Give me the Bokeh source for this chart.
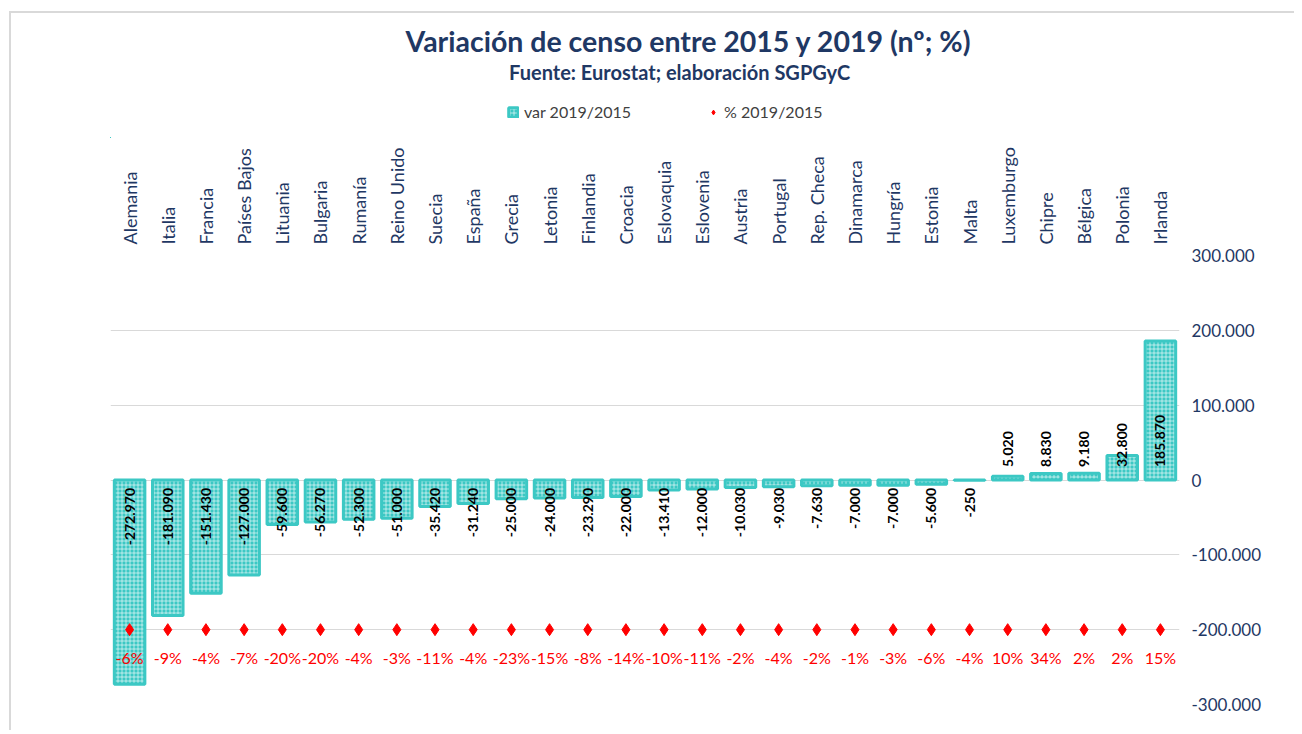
import math
from bokeh.plotting import figure
from bokeh.layouts import column
from bokeh.models import (ColumnDataSource, Range1d, FixedTicker, Legend, LegendItem, Label)
from bokeh.core.properties import value
from bokeh.embed import file_html
from bokeh.resources import INLINE

# ---------------- data ----------------
countries = ["Alemania", "Italia", "Francia", "Países Bajos", "Lituania", "Bulgaria",
             "Rumanía", "Reino Unido", "Suecia", "España", "Grecia", "Letonia",
             "Finlandia", "Croacia", "Eslovaquia", "Eslovenia", "Austria", "Portugal",
             "Rep. Checa", "Dinamarca", "Hungría", "Estonia", "Malta", "Luxemburgo",
             "Chipre", "Bélgica", "Polonia", "Irlanda"]
var_2019_2015 = [-272970, -181090, -151430, -127000, -59600, -56270, -52300, -51000,
                 -35420, -31240, -25000, -24000, -23290, -22000, -13410, -12000,
                 -10030, -9030, -7630, -7000, -7000, -5600, -250, 5020, 8830, 9180,
                 32800, 185870]
pct_2019_2015 = [-6, -9, -4, -7, -20, -20, -4, -3, -11, -4, -23, -15, -8, -14, -10,
                 -11, -2, -4, -2, -1, -3, -6, -4, 10, 34, 2, 2, 15]
pct_row = -200000          # level at which the % markers sit
y_ticks = [-300000, -200000, -100000, 0, 100000, 200000, 300000]
title_text = "Variación de censo entre 2015 y 2019 (nº; %)"
subtitle_text = "Fuente: Eurostat; elaboración  SGPGyC"
legend_labels = ["var 2019/2015", "% 2019/2015"]

FONT = "Lato"
NAVY = "#1F3864"
TEAL = "#3CC8C4"
RED = "#FF0000"

# layout sizes (px)
BORDER_L, BORDER_R = 99, 115
FRAME_W, FRAME_H = 1069, 449
TOP, BOTTOM = 117, 26
W = BORDER_L + FRAME_W + BORDER_R
HEADER_H = 125


def fmt(v):
    return f"{v:,}".replace(",", ".")


src = ColumnDataSource(dict(
    country=countries,
    var=var_2019_2015,
    zero=[0] * len(countries),
    pct_y=[pct_row] * len(countries),
    pct_txt=[f"{p}%" for p in pct_2019_2015],
))
neg = [i for i, v in enumerate(var_2019_2015) if v < 0]
pos = [i for i, v in enumerate(var_2019_2015) if v >= 0]
neg_src = ColumnDataSource(dict(country=[countries[i] for i in neg],
                                zero=[0] * len(neg),
                                txt=[fmt(var_2019_2015[i]) for i in neg]))
pos_src = ColumnDataSource(dict(country=[countries[i] for i in pos],
                                zero=[0] * len(pos),
                                txt=[fmt(var_2019_2015[i]) for i in pos]))

bar_style = dict(fill_color=TEAL, line_color=TEAL, line_width=3,
                 hatch_pattern="+", hatch_color="white", hatch_scale=4,
                 hatch_weight=1, hatch_alpha=0.6)
mark_style = dict(marker="diamond", size=12, fill_color=RED, line_color=RED)

# ---------------- header (title, subtitle, legend) ----------------
header = figure(width=W, height=HEADER_H, x_range=Range1d(0, W), y_range=Range1d(0, HEADER_H),
                x_axis_type=None, y_axis_type=None, title=None,
                output_backend="svg", toolbar_location=None, min_border=0)
header.outline_line_color = None
header.grid.visible = False
header.add_layout(Label(x=694, y=98, text=title_text, text_align="center",
                        text_baseline="middle", text_font=FONT, text_font_size="28.5px",
                        text_font_style="bold", text_color=NAVY))
header.add_layout(Label(x=686, y=67, text=subtitle_text, text_align="center",
                        text_baseline="middle", text_font=FONT, text_font_size="20px",
                        text_font_style="bold", text_color=NAVY))
# legend proxies: same series/style, mapped far outside the header's visible range
leg_bar = header.vbar(x="pct_y", top="zero", width=0.8, source=src, **bar_style)
leg_mark = header.scatter(x="pct_y", y="pct_y", source=src, **mark_style)
legend = Legend(items=[LegendItem(label=legend_labels[0], renderers=[leg_bar]),
                       LegendItem(label=legend_labels[1], renderers=[leg_mark])],
                orientation="horizontal", location=(397, 17),
                label_text_font=FONT, label_text_font_size="16px",
                label_text_color="#404040", border_line_color=None,
                background_fill_alpha=0, spacing=76, glyph_width=12,
                glyph_height=12, label_standoff=5, padding=4, margin=0)
header.add_layout(legend)

# ---------------- main chart ----------------
p = figure(x_range=countries, y_range=Range1d(y_ticks[0], y_ticks[-1]),
           frame_width=FRAME_W, frame_height=FRAME_H, title=None,
           x_axis_location="above", y_axis_location="right",
           output_backend="svg", toolbar_location=None,
           min_border_left=BORDER_L, min_border_right=BORDER_R,
           min_border_top=TOP, min_border_bottom=BOTTOM)
p.outline_line_color = None

p.xgrid.visible = False
p.ygrid.grid_line_color = "#D9D9D9"
p.ygrid.grid_line_width = 1

p.yaxis.ticker = FixedTicker(ticks=y_ticks)
p.yaxis.major_label_overrides = {t: fmt(t) for t in y_ticks}
p.yaxis.axis_line_color = None
p.yaxis.major_tick_line_color = None
p.yaxis.minor_tick_line_color = None
p.yaxis.major_label_standoff = 6
p.yaxis.major_label_text_font = FONT
p.yaxis.major_label_text_font_size = "17px"
p.yaxis.major_label_text_color = NAVY

p.xaxis.axis_line_color = None
p.xaxis.major_tick_line_color = None
p.xaxis.major_label_orientation = math.pi / 2
p.xaxis.major_label_standoff = 5
p.xaxis.major_label_text_font = FONT
p.xaxis.major_label_text_font_size = "18px"
p.xaxis.major_label_text_color = NAVY

p.vbar(x="country", top="var", bottom=0, width=0.8, source=src, **bar_style)

p.scatter(x="country", y="pct_y", source=src, **mark_style)
p.text(x="country", y="pct_y", text="pct_txt", source=src, y_offset=28,
       text_align="center", text_baseline="middle", text_color=RED,
       text_font=value(FONT), text_font_size="16px")

p.text(x="country", y="zero", text="txt", source=neg_src, angle=math.pi / 2,
       y_offset=8, text_align="right", text_baseline="middle",
       text_color="black", text_font=value(FONT), text_font_style="bold",
       text_font_size="14px")
p.text(x="country", y="zero", text="txt", source=pos_src, angle=math.pi / 2,
       y_offset=-13, text_align="left", text_baseline="middle",
       text_color="black", text_font=value(FONT), text_font_style="bold",
       text_font_size="14px")

layout = column(header, p, spacing=0,
                styles={"border-left": "2px solid #D9D9D9",
                        "border-top": "2px solid #D9D9D9",
                        "margin-left": "9px", "margin-top": "11px"})

open("out.html", "w").write(file_html(layout, INLINE))
